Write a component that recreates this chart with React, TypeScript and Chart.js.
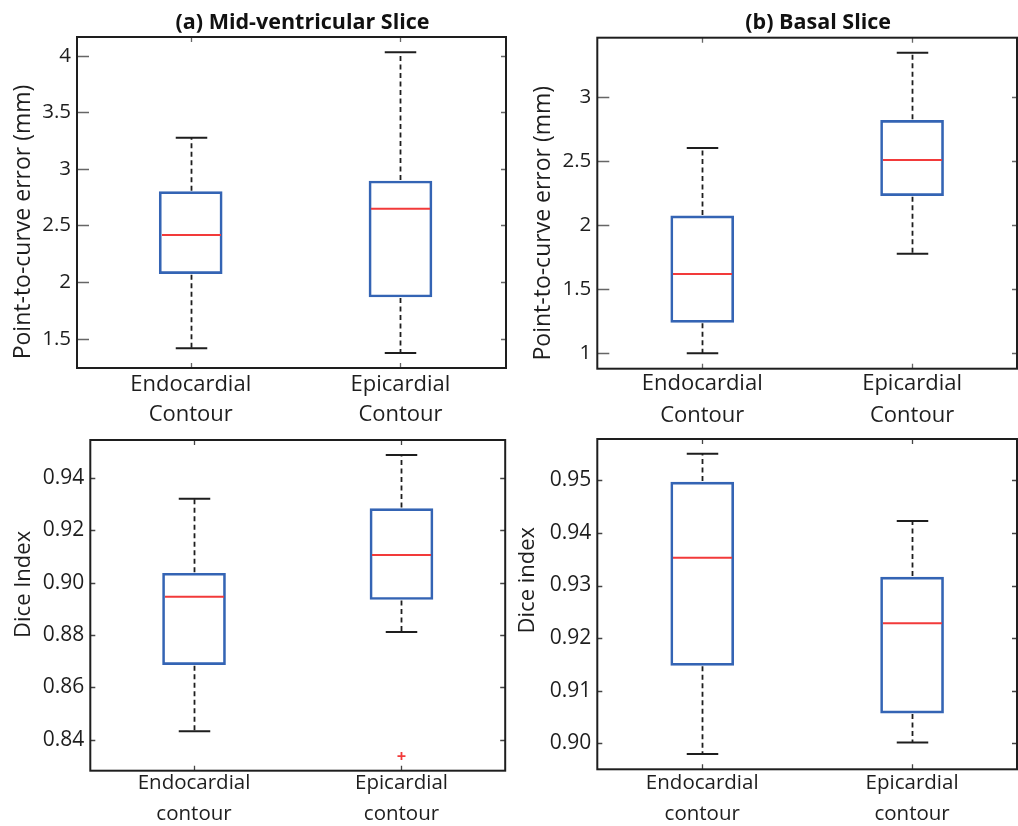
import React, { useEffect, useRef } from "react";
import { Chart, registerables } from "chart.js";

Chart.register(...registerables);

// ---------- data ----------
const positions = [1, 2];
const labelsTop = [["Endocardial", "Contour"], ["Epicardial", "Contour"]];
const labelsBottom = [["Endocardial", "contour"], ["Epicardial", "contour"]];

// (a) Mid-ventricular slice — point-to-curve error (mm)
const midErrLow = [1.415, 1.374];
const midErrQ1 = [2.074, 1.868];
const midErrMedian = [2.416, 2.648];
const midErrQ3 = [2.799, 2.893];
const midErrHigh = [3.276, 4.03];
const midErrOutliers: number[][] = [[], []];
const midErrRange = [1.241, 4.165];
const midErrTicks = [1.5, 2, 2.5, 3, 3.5, 4];
const midErrTickLabels = ["1.5", "2", "2.5", "3", "3.5", "4"];

// (b) Basal slice — point-to-curve error (mm)
const basErrLow = [1.0, 1.778];
const basErrQ1 = [1.242, 2.23];
const basErrMedian = [1.619, 2.509];
const basErrQ3 = [2.072, 2.818];
const basErrHigh = [2.602, 3.346];
const basErrOutliers: number[][] = [[], []];
const basErrRange = [0.88, 3.463];
const basErrTicks = [1, 1.5, 2, 2.5, 3];
const basErrTickLabels = ["1", "1.5", "2", "2.5", "3"];

// Mid-ventricular — Dice index
const midDiceLow = [0.8433, 0.8812];
const midDiceQ1 = [0.8687, 0.8936];
const midDiceMedian = [0.8946, 0.9106];
const midDiceQ3 = [0.9036, 0.9283];
const midDiceHigh = [0.9321, 0.9488];
const midDiceOutliers: number[][] = [[], [0.8338]];
const midDiceRange = [0.8282, 0.9545];
const midDiceTicks = [0.84, 0.86, 0.88, 0.9, 0.92, 0.94];
const midDiceTickLabels = ["0.84", "0.86", "0.88", "0.90", "0.92", "0.94"];

// Basal — Dice index
const basDiceLow = [0.8979, 0.9001];
const basDiceQ1 = [0.9148, 0.9057];
const basDiceMedian = [0.9353, 0.9228];
const basDiceQ3 = [0.9497, 0.9316];
const basDiceHigh = [0.9551, 0.9423];
const basDiceOutliers: number[][] = [[], []];
const basDiceRange = [0.895, 0.9579];
const basDiceTicks = [0.9, 0.91, 0.92, 0.93, 0.94, 0.95];
const basDiceTickLabels = ["0.90", "0.91", "0.92", "0.93", "0.94", "0.95"];

// ---------- styles ----------
const FONT = "'Open Sans', 'DejaVu Sans', sans-serif";
const BLUE = "#3464b4";
const RED = "#f23a3a";
const INK = "#1e1e1e";

type Panel = {
  key: string;
  left: number; top: number; w: number; h: number;
  area: { l: number; t: number; r: number; b: number };
  xRange: number[];
  yRange: number[];
  low: number[]; q1: number[]; med: number[]; q3: number[]; high: number[];
  outliers: number[][];
  yTicks: number[]; yTickLabels: string[];
  labels: string[][];
  title: string | null;
  yTitle: string;
  yTitleX: number;
  yTitleDy: number;
  yTitleSize: number;
  leftTick: number;
  tickColor: string;
  labelPad: number;
  labelSize: number;
  lineH: number;
  yTickSize: number;
};

const panels: Panel[] = [
  {
    key: "a", left: 0, top: 0, w: 509, h: 432,
    area: { l: 77, t: 37, r: 506, b: 368 },
    xRange: [0.458, 2.503], yRange: midErrRange,
    low: midErrLow, q1: midErrQ1, med: midErrMedian, q3: midErrQ3, high: midErrHigh,
    outliers: midErrOutliers,
    yTicks: midErrTicks, yTickLabels: midErrTickLabels,
    labels: labelsTop,
    title: "(a) Mid-ventricular Slice",
    yTitle: "Point-to-curve error (mm)", yTitleX: 29.5, yTitleDy: 19.5, yTitleSize: 23,
    leftTick: 12, tickColor: "#666666", labelPad: 1.2, labelSize: 22, lineH: 1.39, yTickSize: 20.5,
  },
  {
    key: "b", left: 509, top: 0, w: 509, h: 432,
    area: { l: 88.3, t: 37.7, r: 508, b: 368.7 },
    xRange: [0.5, 2.5], yRange: basErrRange,
    low: basErrLow, q1: basErrQ1, med: basErrMedian, q3: basErrQ3, high: basErrHigh,
    outliers: basErrOutliers,
    yTicks: basErrTicks, yTickLabels: basErrTickLabels,
    labels: labelsTop,
    title: "(b) Basal Slice",
    yTitle: "Point-to-curve error (mm)", yTitleX: 41, yTitleDy: 20, yTitleSize: 23,
    leftTick: 12, tickColor: "#666666", labelPad: -0.3, labelSize: 22, lineH: 1.42, yTickSize: 20.5,
  },
  {
    key: "c", left: 0, top: 420, w: 511, h: 406,
    area: { l: 90.3, t: 20, r: 509.5, b: 350.7 },
    xRange: [0.5, 2.5], yRange: midDiceRange,
    low: midDiceLow, q1: midDiceQ1, med: midDiceMedian, q3: midDiceQ3, high: midDiceHigh,
    outliers: midDiceOutliers,
    yTicks: midDiceTicks, yTickLabels: midDiceTickLabels,
    labels: labelsBottom,
    title: null,
    yTitle: "Dice Index", yTitleX: 29.5, yTitleDy: -21, yTitleSize: 22,
    leftTick: 5, tickColor: "#444444", labelPad: -2.7, labelSize: 20.5, lineH: 1.49, yTickSize: 21,
  },
  {
    key: "d", left: 511, top: 420, w: 507, h: 406,
    area: { l: 86.3, t: 19, r: 506, b: 349.3 },
    xRange: [0.5, 2.5], yRange: basDiceRange,
    low: basDiceLow, q1: basDiceQ1, med: basDiceMedian, q3: basDiceQ3, high: basDiceHigh,
    outliers: basDiceOutliers,
    yTicks: basDiceTicks, yTickLabels: basDiceTickLabels,
    labels: labelsBottom,
    title: null,
    yTitle: "Dice index", yTitleX: 23, yTitleDy: -24, yTitleSize: 22,
    leftTick: 5, tickColor: "#444444", labelPad: -1.2, labelSize: 20.5, lineH: 1.49, yTickSize: 21,
  },
];

function makeDecor(p: Panel) {
  return {
    id: "boxDecor_" + p.key,
    afterDatasetsDraw(chart: any) {
      const { ctx } = chart;
      const y = chart.scales.y;
      const meta = chart.getDatasetMeta(0);
      ctx.save();
      positions.forEach((_pos, i) => {
        const el = meta.data[i];
        if (!el) return;
        const px = Math.round(el.x) + 0.5;
        const half = el.width / 2;
        const yLow = y.getPixelForValue(p.low[i]);
        const yQ1 = y.getPixelForValue(p.q1[i]);
        const yMed = y.getPixelForValue(p.med[i]);
        const yQ3 = y.getPixelForValue(p.q3[i]);
        const yHigh = y.getPixelForValue(p.high[i]);
        // dashed whiskers
        ctx.strokeStyle = INK;
        ctx.lineWidth = 1.8;
        ctx.setLineDash([5, 3.5]);
        ctx.beginPath();
        ctx.moveTo(px, yQ3 - 1);
        ctx.lineTo(px, yHigh);
        ctx.moveTo(px, yQ1 + 1);
        ctx.lineTo(px, yLow);
        ctx.stroke();
        // caps
        ctx.setLineDash([]);
        ctx.lineWidth = 2;
        ctx.beginPath();
        ctx.moveTo(px - half / 2, yHigh);
        ctx.lineTo(px + half / 2, yHigh);
        ctx.moveTo(px - half / 2, yLow);
        ctx.lineTo(px + half / 2, yLow);
        ctx.stroke();
        // median
        ctx.strokeStyle = RED;
        ctx.lineWidth = 2;
        ctx.beginPath();
        ctx.moveTo(px - half + 2, yMed);
        ctx.lineTo(px + half - 2, yMed);
        ctx.stroke();
      });
      ctx.restore();
    },
    afterDraw(chart: any) {
      const { ctx, chartArea } = chart;
      const { left, right, top, bottom } = chartArea;
      const x = chart.scales.x;
      const y = chart.scales.y;
      ctx.save();
      // inward ticks, mirrored on all four sides
      ctx.strokeStyle = p.tickColor;
      ctx.lineWidth = 1.3;
      ctx.beginPath();
      y.ticks.forEach((t: any) => {
        const py = Math.round(y.getPixelForValue(t.value)) + 0.5;
        ctx.moveTo(left, py);
        ctx.lineTo(left + p.leftTick, py);
        ctx.moveTo(right, py);
        ctx.lineTo(right - 5, py);
      });
      x.ticks.forEach((t: any) => {
        const px = Math.round(x.getPixelForValue(t.value)) + 0.5;
        ctx.moveTo(px, bottom);
        ctx.lineTo(px, bottom - 5);
        ctx.moveTo(px, top);
        ctx.lineTo(px, top + 5);
      });
      ctx.stroke();
      // frame
      ctx.strokeStyle = "#1e1e1e";
      ctx.lineWidth = 2;
      ctx.strokeRect(left, top, right - left, bottom - top);
      // panel title
      if (p.title) {
        ctx.fillStyle = "#111111";
        ctx.font = `bold 21.5px ${FONT}`;
        ctx.textAlign = "center";
        ctx.textBaseline = "alphabetic";
        ctx.fillText(p.title, (left + right) / 2 + 11, 28.5);
      }
      // y-axis title
      ctx.fillStyle = INK;
      ctx.font = `${p.yTitleSize}px ${FONT}`;
      ctx.textAlign = "center";
      ctx.textBaseline = "alphabetic";
      ctx.translate(p.yTitleX, (top + bottom) / 2 + p.yTitleDy);
      ctx.rotate(-Math.PI / 2);
      ctx.fillText(p.yTitle, 0, 0);
      ctx.restore();
    },
  };
}

function BoxPanel({ p }: { p: Panel }) {
  const ref = useRef<HTMLCanvasElement>(null);
  useEffect(() => {
    if (!ref.current) return;
    const boxData = positions.map((pos, i) => ({ x: pos, y: [p.q1[i], p.q3[i]] }));
    const outlierData: { x: number; y: number }[] = [];
    p.outliers.forEach((vals, i) => vals.forEach((v) => outlierData.push({ x: positions[i], y: v })));
    const chart = new Chart(ref.current, {
      type: "bar",
      data: {
        datasets: [
          {
            type: "bar",
            data: boxData as any,
            backgroundColor: "rgba(255,255,255,0)",
            borderColor: BLUE,
            borderWidth: 2,
            borderSkipped: false,
            barThickness: 63,
          } as any,
          {
            type: "scatter",
            data: outlierData,
            pointStyle: "cross",
            radius: 4,
            borderColor: RED,
            backgroundColor: RED,
            borderWidth: 1.8,
          } as any,
        ],
      },
      options: {
        animation: false,
        responsive: false,
        devicePixelRatio: 1,
        events: [],
        layout: {
          padding: { top: p.area.t, right: p.w - p.area.r, left: 0, bottom: 0 },
        },
        plugins: {
          legend: { display: false },
          tooltip: { enabled: false },
          title: { display: false },
        },
        scales: {
          x: {
            type: "linear",
            min: p.xRange[0],
            max: p.xRange[1],
            offset: false,
            grid: { display: false, drawTicks: false },
            border: { display: false },
            afterBuildTicks: (s: any) => {
              s.ticks = positions.map((v) => ({ value: v }));
            },
            afterFit: (s: any) => {
              s.height = p.h - p.area.b;
            },
            ticks: {
              autoSkip: false,
              maxRotation: 0,
              minRotation: 0,
              padding: p.labelPad,
              color: INK,
              font: { family: FONT, size: p.labelSize, lineHeight: p.lineH },
              callback: (_v: any, i: number) => p.labels[i],
            },
          },
          y: {
            type: "linear",
            min: p.yRange[0],
            max: p.yRange[1],
            grid: { display: false, drawTicks: false },
            border: { display: false },
            afterBuildTicks: (s: any) => {
              s.ticks = p.yTicks.map((v) => ({ value: v }));
            },
            afterFit: (s: any) => {
              s.width = p.area.l;
            },
            ticks: {
              padding: 6,
              color: INK,
              font: { family: FONT, size: p.yTickSize },
              callback: (_v: any, i: number) => p.yTickLabels[i],
            },
          },
        },
      } as any,
      plugins: [makeDecor(p)],
    });
    return () => chart.destroy();
  }, [p]);
  return (
    <canvas
      ref={ref}
      width={p.w}
      height={p.h}
      style={{ position: "absolute", left: p.left, top: p.top, width: p.w, height: p.h }}
    />
  );
}

export default function App() {
  return (
    <div
      style={{
        position: "fixed",
        left: 0,
        top: 0,
        width: 1018,
        height: 826,
        background: "#ffffff",
        overflow: "hidden",
      }}
    >
      {panels.map((p) => (
        <BoxPanel key={p.key} p={p} />
      ))}
    </div>
  );
}
